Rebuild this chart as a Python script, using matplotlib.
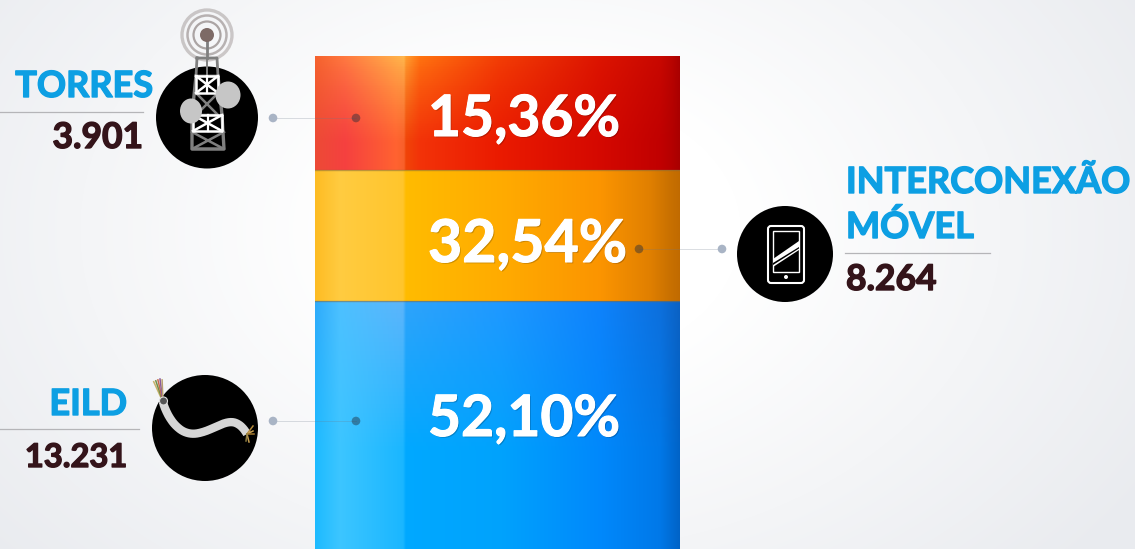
import numpy as np
import matplotlib
matplotlib.use("Agg")
import matplotlib.pyplot as plt
import matplotlib.patheffects as pe
from matplotlib.colors import to_rgb
from matplotlib.patches import Circle, Ellipse, FancyBboxPatch, Polygon

# ---- data ----
categories = ["TORRES", "INTERCONEXÃO\nMÓVEL", "EILD"]
percent_values = [15.36, 32.54, 52.10]
count_labels = ["3.901", "8.264", "13.231"]

W, H = 1135, 549
FONT = "Lato"
BLUE = "#0d9fe3"
DARK = "#34141a"

fig = plt.figure(figsize=(W / 100, H / 100), dpi=100)

# background
bg = fig.add_axes([0, 0, 1, 1], zorder=0)
yy, xx = np.mgrid[0:H, 0:W]
d = np.sqrt(((xx - 540) / 800) ** 2 + ((yy - 230) / 560) ** 2)
t = np.clip((d - 0.25) / 0.65, 0, 1)[..., None]
bg.imshow((1 - t) * np.array([1, 1, 1.0]) + t * np.array(to_rgb("#e9ebef")), aspect="auto", extent=(0, W, H, 0))
bg.axis("off")

# stacked bar: the picture's vertical scale is not proportional, so it is piecewise
BAR_L, BAR_R, BAR_T, BAR_B = 315, 680, 56, 549
cum = np.concatenate([[0], np.cumsum(percent_values)])
seg_px = np.array([56, 170, 301, 549], float)
forward = lambda v: np.interp(v, cum, seg_px)
inverse = lambda v: np.interp(v, seg_px, cum)
ax = fig.add_axes([BAR_L / W, 1 - BAR_B / H, (BAR_R - BAR_L) / W, (BAR_B - BAR_T) / H], zorder=1)
ax.set_yscale("function", functions=(forward, inverse))
ax.set_xlim(BAR_L, BAR_R)
ax.set_ylim(cum[-1], 0)
ax.axis("off")

X = np.linspace(BAR_L, BAR_R, BAR_R - BAR_L + 1)
XC = (X[:-1] + X[1:]) / 2
stops = [
    ([315, 345, 396, 404, 406, 420, 500, 600, 660, 672, 680],
     ["#f5622c", "#ff7a40", "#ffb04a", "#ffb84d", "#ffa030", "#ff7410", "#f23e05", "#dc1400", "#c80800", "#b80400", "#a80000"],
     ["#ec4a35", "#f5403f", "#ff6230", "#f8602a", "#f04408", "#f23208", "#ea1a00", "#d40800", "#c00000", "#b40000", "#a80000"]),
    ([315, 340, 403, 406, 500, 600, 650, 670, 680],
     ["#fdbb22", "#ffcb40", "#ffc52c", "#ffbb00", "#ffab00", "#fb9400", "#e07f00", "#c87000", "#c06a00"],
     ["#fdbb22", "#ffcb40", "#ffc52c", "#ffbb00", "#ffab00", "#fb9400", "#e07f00", "#c87000", "#c06a00"]),
    ([315, 340, 403, 406, 500, 600, 660, 680],
     ["#2eaafa", "#4cc0ff", "#5cb4fb", "#2ea3fa", "#1f98ff", "#0e82fb", "#0d6fdc", "#0b61c3"],
     ["#1cbaff", "#3cc5ff", "#1ab6ff", "#00a8ff", "#00a2fc", "#0088fb", "#0078e8", "#0062c6"]),
]
def ramp(xs, cols):
    c = np.array([to_rgb(k) for k in cols])
    return np.stack([np.interp(XC, xs, c[:, i]) for i in range(3)], axis=1)
for i, (xs, top, bot) in enumerate(stops):
    n = 60
    Y = np.linspace(cum[i], cum[i + 1], n + 1)
    f = (np.arange(n) + 0.5) / n
    if i == 0:
        f = np.clip(f / 0.75, 0, 1) ** 0.8
    if i == 2:
        f = np.clip(f / 0.6, 0, 1)
    img = np.einsum("i,jk->ijk", 1 - f, ramp(xs, top)) + np.einsum("i,jk->ijk", f, ramp(xs, bot))
    ax.pcolormesh(X, Y, img, shading="flat", rasterized=True, linewidth=0)
    if i:
        ax.plot([BAR_L, BAR_R], [cum[i]] * 2, color="#8a6a3a", lw=1, alpha=.55)

# overlay in pixel coordinates
ov = fig.add_axes([0, 0, 1, 1], zorder=2)
ov.set_xlim(0, W)
ov.set_ylim(H, 0)
ov.axis("off")
ov.patch.set_alpha(0)

# percent labels
for v, x, y, s in zip(percent_values, [428, 428, 428], [136, 262, 436], [41, 42.5, 41]):
    ov.text(x, y, f"{v:.2f}".replace(".", ",") + "%", color="white", fontsize=s, fontweight="bold",
            family=FONT, ha="left", va="baseline",
            path_effects=[pe.withSimplePatchShadow(offset=(1, -1), shadow_rgbFace="#000000", alpha=.2),
                          pe.withStroke(linewidth=.8, foreground="white")])

# leaders
for x0, x1, y in [(273, 356, 118), (722, 639, 249), (273, 356, 421)]:
    ov.plot([x0, x1], [y, y], color="#6d7a8a", lw=.7, alpha=.25, zorder=2)
    ov.add_patch(Circle((x0, y), 4.3, fc="#a9b4c5", ec="none", zorder=3))
    ov.add_patch(Circle((x1, y), 4.3, fc="#222b3a", ec="none", alpha=.45, zorder=3))

# category text
def txt(x, y, s, c, size, ha):
    ov.text(x, y, s, color=c, fontsize=size, fontweight="bold", family=FONT, ha=ha, va="baseline",
            path_effects=[pe.withStroke(linewidth=1.0, foreground=c)])
txt(153, 97, categories[0], BLUE, 26, "right")
txt(143, 148, count_labels[0], DARK, 25.5, "right")
ov.plot([0, 143], [112, 112], color="#b5b5b8", lw=.9)
a, b = categories[1].split("\n")
txt(846, 193, a, BLUE, 26, "left")
txt(846, 238, b, BLUE, 26, "left")
txt(846, 290, count_labels[1], DARK, 25.5, "left")
ov.plot([845, 990], [253, 253], color="#b5b5b8", lw=.9)
txt(127, 415, categories[2], BLUE, 26, "right")
txt(127, 467, count_labels[2], DARK, 23.5, "right")
ov.plot([0, 139], [429, 429], color="#b5b5b8", lw=.9)

# ---- tower icon ----
ov.add_patch(Circle((207, 117.5), 51, fc="black", ec="none", zorder=2))
for r, lw, al in [(25, 2.4, .35), (19.5, 1.8, .5), (13.5, 1.6, .6)]:
    ov.add_patch(Circle((207, 35), r, fc="none", ec="#7b6f6d", lw=lw, alpha=al, zorder=3))
ov.add_patch(Circle((207, 35), 7, fc="#7d6a66", ec="none", zorder=4))
GR = "#7f7f7f"
ov.plot([207, 207], [40, 58], color=GR, lw=2, zorder=3)
ov.plot([197, 217, 218, 196, 197], [58, 58, 76, 76, 58], color=GR, lw=2, zorder=3)
ov.plot([207, 207], [58, 76], color=GR, lw=1.4, zorder=3)
ov.plot([196, 192, 192, 224, 222], [76, 115, 149, 149, 115], color=GR, lw=2.4, zorder=3)
ov.plot([218, 222], [76, 115], color=GR, lw=2.4, zorder=3)
for l, r, t_, b_ in [(196, 218, 93, 115), (192, 224, 132, 149)]:
    ov.plot([l, r, l, r], [t_, b_, b_, t_], color=GR, lw=1.8, zorder=3)
for l, r, t_, b_ in [(196, 218, 76, 93), (193, 222, 115, 131)]:
    ov.plot([l, r, r, l, l], [t_, t_, b_, b_, t_], color="white", lw=1.8, zorder=4)
    ov.plot([l, r], [t_, b_], color="white", lw=1.8, zorder=4)
    ov.plot([l, r], [b_, t_], color="white", lw=1.8, zorder=4)
    ov.plot([(l + r) / 2] * 2, [t_, b_], color="white", lw=1.6, zorder=4)
ov.add_patch(Ellipse((228, 95), 25, 27, fc="#c6c6c6", ec="none", zorder=5))
ov.add_patch(Ellipse((191, 111), 22, 25, fc="#c6c6c6", ec="none", zorder=5))

# ---- phone icon ----
ov.add_patch(Circle((785, 254), 48, fc="black", ec="none", zorder=2))
ov.add_patch(FancyBboxPatch((768, 226), 36, 57, boxstyle="round,pad=0,rounding_size=3", fc="none", ec="white", lw=1.5, zorder=3))
ov.add_patch(Polygon([(773, 231), (799, 231), (799, 272), (773, 272)], fc="none", ec="white", lw=1, zorder=3))
ov.add_patch(Polygon([(773, 259), (799, 241), (799, 250), (773, 267)], fc="white", ec="none", zorder=3))
ov.add_patch(Polygon([(773, 263), (799, 247), (799, 248.5), (773, 265)], fc="black", ec="none", zorder=4))
ov.add_patch(Circle((786, 277), 2, fc="white", ec="none", zorder=3))

# ---- cable icon ----
ov.add_patch(Circle((205, 428), 53, fc="black", ec="none", zorder=2))
cx = [163, 165, 170, 177, 187, 198, 210, 221, 231, 238, 243, 247]
cy = [402, 411, 421, 431, 436, 438, 431, 422, 418, 421, 427, 434]
u = np.arange(len(cx))
uu = np.linspace(0, len(cx) - 1, 200)
smooth = lambda v: np.convolve(np.interp(np.linspace(-20, len(cx) + 19, 800) , u, v), np.ones(60) / 60, mode="same")[40:-40]
ov.plot(smooth(cx)[20:-20], smooth(cy)[20:-20], color="#d6d6d6", lw=6, solid_capstyle="butt", solid_joinstyle="round", zorder=3)
for dx, c in zip([-9, -6, -3, 0, 3], ["#c9b26a", "#6f8f4a", "#c96a4a", "#8a5a9a", "#b8a070"]):
    ov.plot([163, 160 + dx * .7], [402, 379 + abs(dx) * .3], color=c, lw=1.1, zorder=4)
ov.add_patch(Circle((163.5, 401), 4, fc="#555", ec="#ddd", lw=.8, zorder=5))
for dx, dy, c in [(6, -8, "#b58a3a"), (6, -3, "#c9a050"), (7, 0, "#a57a30"), (2, 8, "#c9a050"), (-1, 7, "#8a7a40")]:
    ov.plot([247, 247 + dx], [434, 434 + dy], color=c, lw=1.1, zorder=4)

fig.savefig("out.png", dpi=100)
